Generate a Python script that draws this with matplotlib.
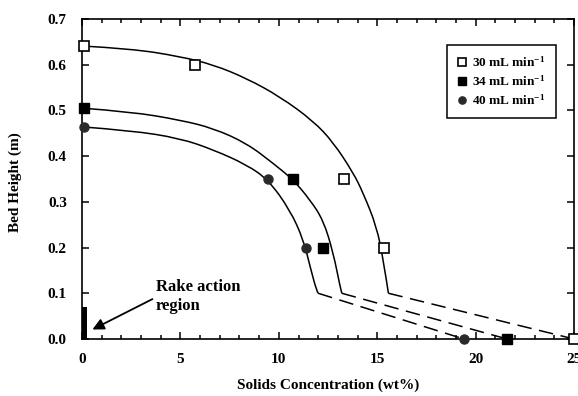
# bed height vs solids concentration, rake action region
import numpy as np
from matplotlib import pyplot as plt
from matplotlib.path import Path
from matplotlib.patches import PathPatch
from matplotlib.ticker import MultipleLocator

plt.rcParams['font.family'] = ['Liberation Serif', 'DejaVu Serif']
plt.rcParams['font.weight'] = 'bold'
plt.rcParams['mathtext.fontset'] = 'custom'
plt.rcParams['mathtext.rm'] = 'Liberation Serif:bold'
plt.rcParams['mathtext.bf'] = 'Liberation Serif:bold'
plt.rcParams['mathtext.default'] = 'bf'

# measured points
x30 = [0.1, 5.75, 13.3, 15.35, 25.0]
y30 = [0.64, 0.60, 0.35, 0.20, 0.0]
x34 = [0.1, 10.7, 12.25, 21.6]
y34 = [0.505, 0.35, 0.20, 0.0]
x40 = [0.1, 9.45, 11.4, 19.4]
y40 = [0.463, 0.35, 0.20, 0.0]

# fitted curves (solid part)
fx30 = [0, 2.5, 4.98, 6.67, 8.37, 10.06, 11.75, 12.77, 13.79, 14.29, 14.97, 15.31, 15.57]
fy30 = [0.641, 0.635, 0.618, 0.600, 0.570, 0.530, 0.477, 0.430, 0.363, 0.319, 0.246, 0.173, 0.10]
fx34 = [0, 2.5, 4.98, 6.67, 8.37, 9.72, 10.74, 11.59, 12.26, 12.77, 13.11, 13.2]
fy34 = [0.505, 0.497, 0.479, 0.461, 0.428, 0.384, 0.348, 0.304, 0.260, 0.188, 0.115, 0.10]
fx40 = [0, 2.5, 4.98, 6.67, 8.37, 9.47, 10.57, 11.25, 11.59, 11.93, 12.0]
fy40 = [0.464, 0.456, 0.439, 0.414, 0.381, 0.348, 0.282, 0.217, 0.158, 0.104, 0.10]

# dashed extrapolation to zero height
dx30 = [15.57, 25.0]
dx34 = [13.2, 21.6]
dx40 = [12.0, 19.4]
dy = [0.10, 0.0]

rake_x = 0.13
rake_w = 0.27
rake_h = 0.07

labels = ['30 mL min$^{-1}$', '34 mL min$^{-1}$', '40 mL min$^{-1}$']


def smooth_path(xs, ys):
    # quadratic bezier through segment midpoints, read points act as controls
    verts = [(xs[0], ys[0])]
    codes = [Path.MOVETO]
    for i in range(1, len(xs) - 1):
        mx = 0.5 * (xs[i] + xs[i + 1])
        my = 0.5 * (ys[i] + ys[i + 1])
        if i == len(xs) - 2:
            mx, my = xs[i + 1], ys[i + 1]
        verts += [(xs[i], ys[i]), (mx, my)]
        codes += [Path.CURVE3, Path.CURVE3]
    return Path(verts, codes)


fig = plt.figure(figsize=(5.78, 3.96), dpi=100)
ax = fig.add_axes([0.142, 0.144, 0.851, 0.808])

lw = 1.1
for fx, fy in [(fx30, fy30), (fx34, fy34), (fx40, fy40)]:
    ax.add_patch(PathPatch(smooth_path(fx, fy), facecolor='none',
        edgecolor='k', lw=lw))
for dx in [dx30, dx34, dx40]:
    ax.plot(dx, dy, color='k', lw=lw, linestyle=(0, (9.5, 5)))

ms = 6.5
h1, = ax.plot(x30, y30, linestyle='none', marker='s', ms=ms, mfc='white',
    mec='k', mew=1.2, clip_on=False, zorder=5)
h2, = ax.plot(x34, y34, linestyle='none', marker='s', ms=ms, mfc='k',
    mec='k', clip_on=False, zorder=5)
h3, = ax.plot(x40, y40, linestyle='none', marker='o', ms=ms, mfc='#2a2a2a',
    mec='#2a2a2a', clip_on=False, zorder=5)

ax.bar([rake_x], [rake_h], width=rake_w, color='k')
ax.text(3.75, 0.093, 'Rake action\nregion', ha='left', va='center',
    fontsize=12, fontweight='bold', linespacing=1.25)
ax.annotate('', xy=(0.4, 0.018), xytext=(3.7, 0.09),
    arrowprops=dict(arrowstyle='-|>', color='k', lw=1.3, mutation_scale=17))

ax.set_xlim(0, 25)
ax.set_ylim(0, 0.7)
ax.xaxis.set_major_locator(MultipleLocator(5))
ax.xaxis.set_minor_locator(MultipleLocator(1))
ax.yaxis.set_major_locator(MultipleLocator(0.1))
ax.yaxis.set_major_formatter(plt.FormatStrFormatter('%.1f'))
ax.tick_params(which='both', direction='in', top=True, right=True, width=1.1)
ax.tick_params(which='major', length=5)
ax.tick_params(which='minor', length=3)
ax.tick_params(axis='x', pad=10, labelsize=11)
ax.tick_params(axis='y', pad=11, labelsize=11)
for lab in ax.get_xticklabels() + ax.get_yticklabels():
    lab.set_fontweight('bold')
for sp in ax.spines.values():
    sp.set_linewidth(1.2)

ax.set_xlabel('Solids Concentration (wt%)', fontsize=11, fontweight='bold')
ax.set_ylabel('Bed Height (m)', fontsize=11, fontweight='bold')
ax.xaxis.set_label_coords(0.5, -0.125)
ax.yaxis.set_label_coords(-0.122, 0.49)

leg = ax.legend([h1, h2, h3], labels, loc='upper right',
    bbox_to_anchor=(0.963, 0.919), borderaxespad=0, fancybox=False,
    edgecolor='k', framealpha=1, handlelength=0.6, handletextpad=0.45,
    labelspacing=0.3, borderpad=0.8,
    prop={'family': 'Liberation Serif', 'weight': 'bold', 'size': 9.5},
    markerscale=0.8)
leg.get_frame().set_linewidth(1.1)

plt.savefig('out.png', dpi=100)
